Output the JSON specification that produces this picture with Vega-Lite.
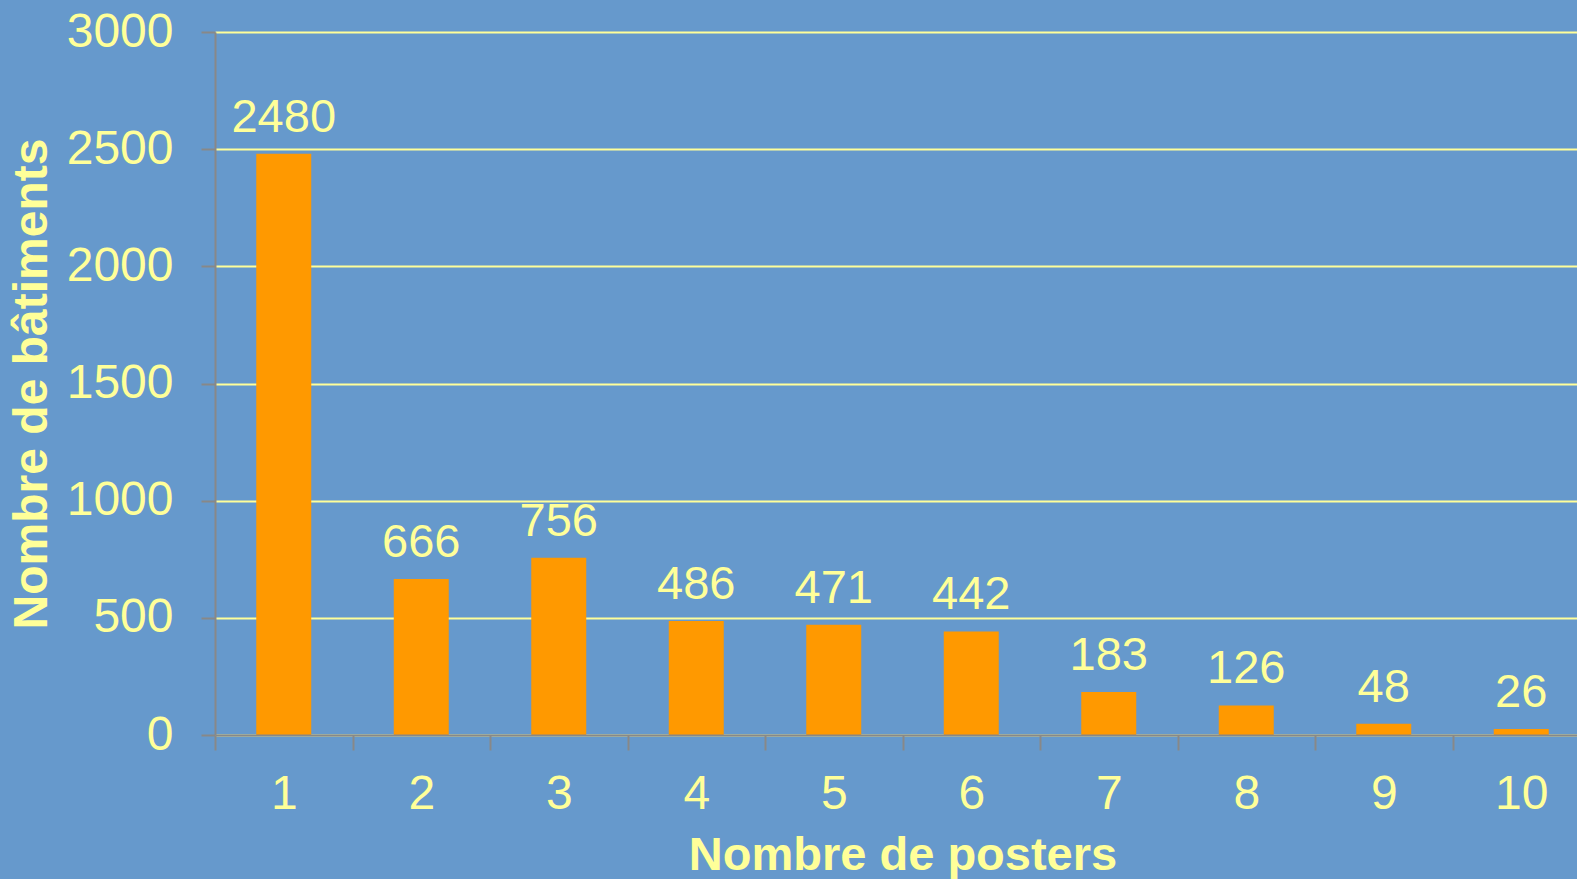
{
  "$schema": "https://vega.github.io/schema/vega-lite/v6.json",
  "autosize": "none",
  "padding": {"left": 215, "top": 32, "right": 0, "bottom": 144},
  "width": 1362,
  "height": 703,
  "background": "#6699CC",
  "config": {
    "view": {"stroke": null},
    "font": "Liberation Sans"
  },
  "data": {
    "values": [
      {"posters": "1", "batiments": 2480},
      {"posters": "2", "batiments": 666},
      {"posters": "3", "batiments": 756},
      {"posters": "4", "batiments": 486},
      {"posters": "5", "batiments": 471},
      {"posters": "6", "batiments": 442},
      {"posters": "7", "batiments": 183},
      {"posters": "8", "batiments": 126},
      {"posters": "9", "batiments": 48},
      {"posters": "10", "batiments": 26}
    ]
  },
  "encoding": {
    "x": {
      "field": "posters",
      "type": "ordinal",
      "sort": null,
      "scale": {"range": [0, 1375], "paddingInner": 0, "paddingOuter": 0},
      "axis": {
        "title": "Nombre de posters",
        "titleFont": "Liberation Sans",
        "titleFontSize": 47,
        "titleFontWeight": "bold",
        "titleColor": "#FFFF99",
        "titlePadding": 14,
        "titleAnchor": "middle",
        "labelAngle": 0,
        "labelFontSize": 48,
        "labelColor": "#FFFF99",
        "labelPadding": 20,
        "labelBaseline": "top",
        "tickBand": "extent",
        "tickSize": 15,
        "tickColor": "#888888",
        "tickWidth": 2,
        "domainColor": "#888888",
        "domainWidth": 2,
        "grid": false,
        "zindex": 1
      }
    },
    "y": {
      "field": "batiments",
      "type": "quantitative",
      "scale": {"domain": [0, 3000]},
      "axis": {
        "title": "Nombre de bâtiments",
        "titleFont": "Liberation Sans",
        "titleFontSize": 48,
        "titleFontWeight": "bold",
        "titleColor": "#FFFF99",
        "titlePadding": 10,
        "values": [0, 500, 1000, 1500, 2000, 2500, 3000],
        "format": "d",
        "labelFontSize": 48,
        "labelColor": "#FFFF99",
        "labelPadding": 28,
        "tickSize": 14,
        "tickColor": "#888888",
        "tickWidth": 2,
        "domainColor": "#888888",
        "domainWidth": 2,
        "grid": true,
        "gridColor": "#FFFF99",
        "gridWidth": 2,
        "gridOpacity": 1
      }
    }
  },
  "layer": [
    {
      "mark": {"type": "bar", "color": "#FF9900", "width": {"band": 0.4}}
    },
    {
      "mark": {"type": "text", "baseline": "alphabetic", "dy": -22, "fontSize": 47, "color": "#FFFF99", "font": "Liberation Sans"},
      "encoding": {"text": {"field": "batiments", "type": "quantitative"}}
    }
  ]
}
